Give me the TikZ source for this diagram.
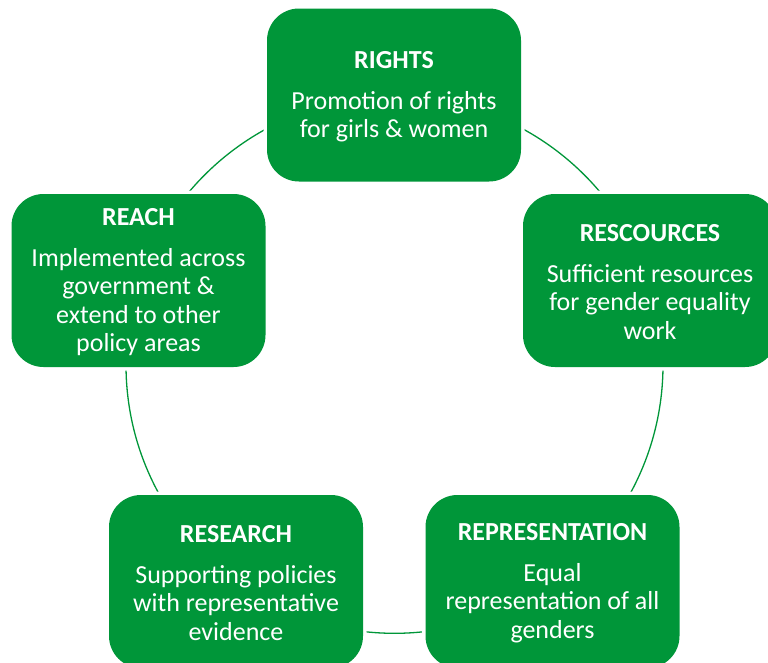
\documentclass[tikz,border=0pt]{standalone}
\usepackage{fontspec}
\setmainfont{Carlito}
\definecolor{boxgreen}{RGB}{0,150,57}
\newcommand{\titlestrut}{\rule{0pt}{20pt}}
\begin{document}
\begin{tikzpicture}[x=1pt,y=-1pt,
  pillar/.style={fill=boxgreen, rounded corners=32pt, minimum width=254pt,
    minimum height=173pt, text=white, align=center, inner sep=0pt,
    font=\fontsize{26}{28.5}\selectfont,
    preaction={draw=white, line width=7pt}},
  ring/.style={draw=boxgreen, line width=1.3pt}]
\useasboundingbox (0,0) rectangle (768,662);
\clip (0,0) rectangle (768,662);
\coordinate (hub) at (394.5,364.8);
\draw[ring] (hub) circle[radius=268.5];
\node[pillar] (rights) at (394,95) {\titlestrut\textbf{RIGHTS}\\[12.5pt]Promotion of rights\\for girls \& women};
\node[pillar] (reach) at (138.5,280.5) {\titlestrut\textbf{REACH}\\[12.5pt]Implemented across\\government \&\\extend to other\\policy areas};
\node[pillar] (resources) at (650,280.5) {\titlestrut\textbf{RESCOURCES}\\[12.5pt]Sufficient resources\\for gender equality\\work};
\node[pillar] (research) at (236,581.5) {\titlestrut\textbf{RESEARCH}\\[12.5pt]Supporting policies\\with representative\\evidence};
\node[pillar] (representation) at (552.5,581.5) {\titlestrut\textbf{REPRESENTATION}\\[12.5pt]Equal\\representation of all\\genders};
\end{tikzpicture}
\end{document}
